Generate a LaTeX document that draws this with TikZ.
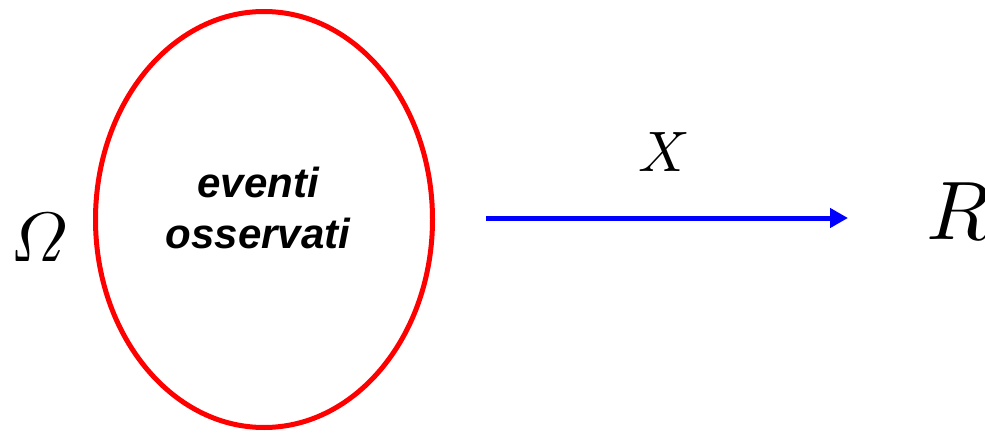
\documentclass[tikz,border=0pt]{standalone}
\usepackage{amsmath}
\usepackage{fontspec}
\newfontfamily\arialfont{Liberation Sans}
\usetikzlibrary{arrows.meta,shapes.geometric}

\begin{document}
\begin{tikzpicture}[
        x=1pt, y=-1pt,
        setline/.style={draw=red, line width=5pt, ellipse, minimum width=337pt, minimum height=416pt, inner sep=0pt},
        evtext/.style={font=\arialfont\bfseries\itshape\fontsize{42}{51}\selectfont, align=center, inner sep=0pt},
        symb/.style={inner sep=0pt},
        mapline/.style={draw=blue, line width=5pt, -{Triangle[length=18pt, width=19pt]}}
    ]

    % Frame
    \useasboundingbox (0,0) rectangle (985,433);

    % Sample space
    \node[symb, scale=7] (omega) at (39,238) {$\varOmega$};
    \node[setline] (events) at (264,219.5) {};
    \node[evtext] (evlabel) at (258,208) {eventi\\osservati};

    % Mapping
    \coordinate (mapstart) at (486,218);
    \coordinate (mapend) at (848,218);
    \draw[mapline] (mapstart) -- (mapend);
    \node[symb, scale=5.7] (xmap) at (664,152) {$X$};

    % Real line
    \node[symb, scale=8.3] (reals) at (958,211) {$R$};

\end{tikzpicture}
\end{document}
